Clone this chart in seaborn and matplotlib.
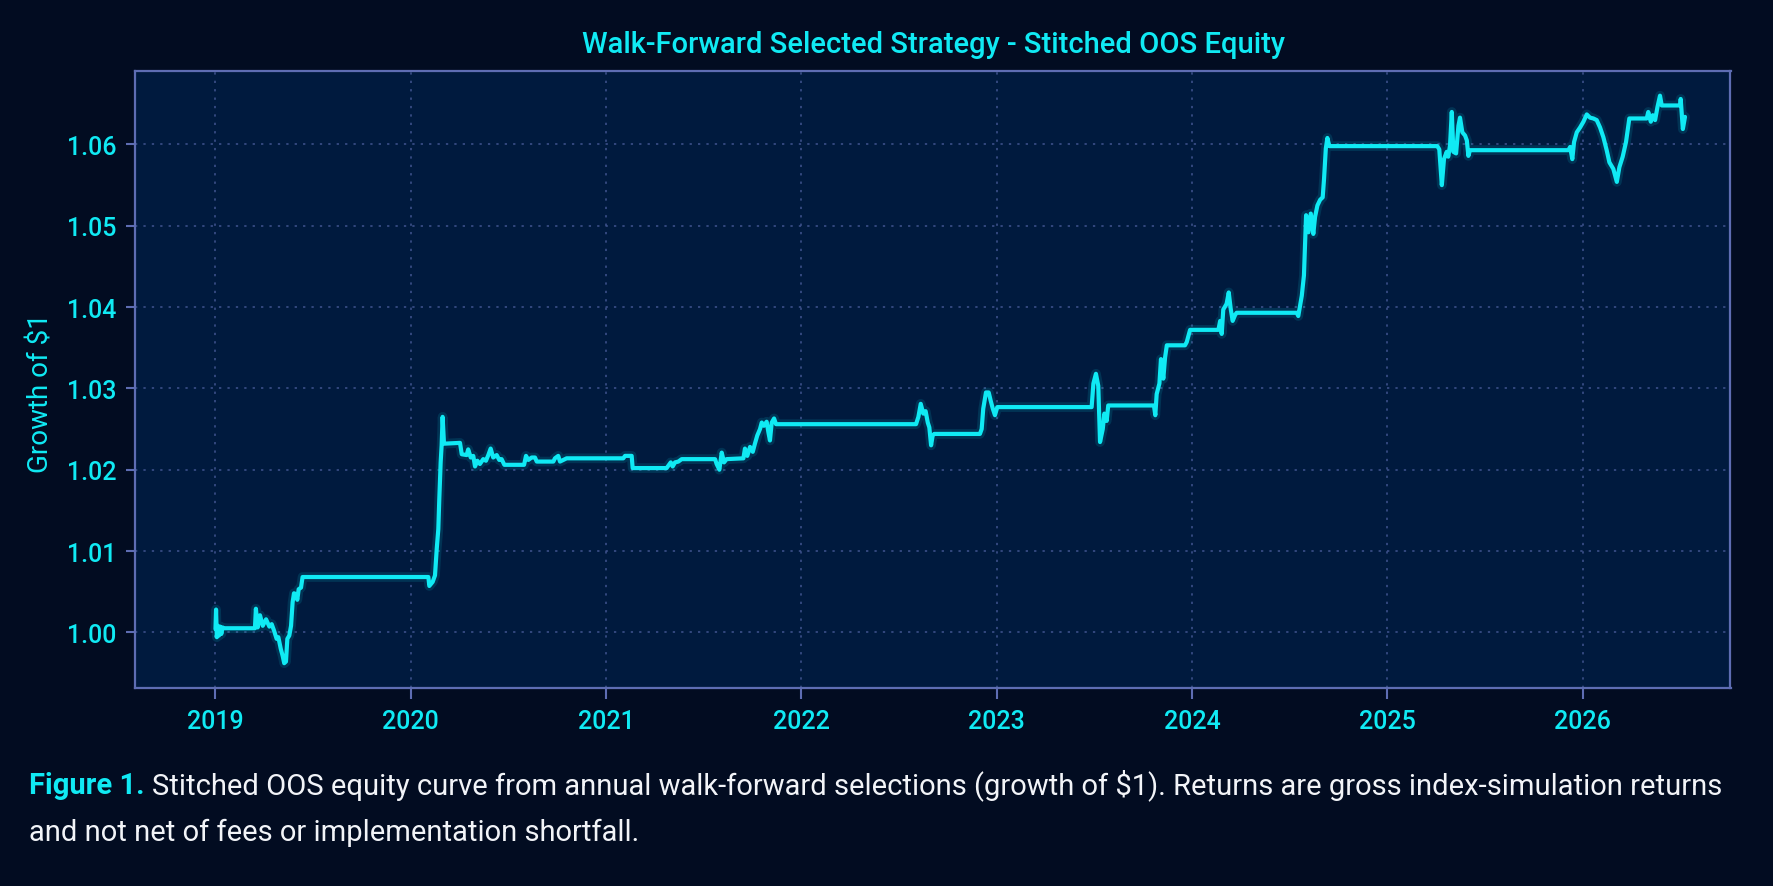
import pandas as pd
import seaborn as sns
import matplotlib.pyplot as plt

# Stitched OOS equity curve (decimal year, growth of $1)
anos = [
    2019.000, 2019.003, 2019.007, 2019.012, 2019.018, 2019.024, 2019.030, 2019.036, 2019.045, 2019.202,
    2019.207, 2019.216, 2019.228, 2019.242, 2019.259, 2019.276, 2019.288, 2019.300, 2019.313, 2019.322,
    2019.334, 2019.344, 2019.352, 2019.361, 2019.368, 2019.378, 2019.387, 2019.395, 2019.402, 2019.412,
    2019.419, 2019.426, 2019.438, 2019.446, 2020.090, 2020.095, 2020.112, 2020.124, 2020.133, 2020.141,
    2020.146, 2020.153, 2020.158, 2020.163, 2020.170, 2020.252, 2020.261, 2020.286, 2020.294, 2020.307,
    2020.320, 2020.329, 2020.341, 2020.354, 2020.371, 2020.385, 2020.397, 2020.409, 2020.422, 2020.440,
    2020.453, 2020.465, 2020.479, 2020.580, 2020.590, 2020.602, 2020.619, 2020.636, 2020.645, 2020.730,
    2020.738, 2020.755, 2020.764, 2020.781, 2020.798, 2021.088, 2021.097, 2021.131, 2021.136, 2021.310,
    2021.319, 2021.331, 2021.341, 2021.353, 2021.370, 2021.387, 2021.558, 2021.566, 2021.580, 2021.592,
    2021.604, 2021.617, 2021.703, 2021.711, 2021.723, 2021.737, 2021.751, 2021.762, 2021.774, 2021.788,
    2021.797, 2021.808, 2021.822, 2021.831, 2021.839, 2021.848, 2021.860, 2021.870, 2022.587, 2022.599,
    2022.611, 2022.624, 2022.636, 2022.647, 2022.655, 2022.664, 2022.672, 2022.680, 2022.914, 2022.923,
    2022.931, 2022.945, 2022.959, 2022.969, 2022.980, 2022.991, 2023.003, 2023.486, 2023.495, 2023.508,
    2023.520, 2023.529, 2023.543, 2023.551, 2023.563, 2023.571, 2023.805, 2023.812, 2023.819, 2023.833,
    2023.841, 2023.853, 2023.862, 2023.871, 2023.964, 2023.973, 2023.990, 2024.135, 2024.144, 2024.152,
    2024.160, 2024.177, 2024.188, 2024.198, 2024.208, 2024.220, 2024.228, 2024.536, 2024.544, 2024.562,
    2024.573, 2024.584, 2024.596, 2024.608, 2024.621, 2024.630, 2024.642, 2024.656, 2024.669, 2024.676,
    2024.685, 2024.693, 2024.703, 2025.256, 2025.266, 2025.279, 2025.290, 2025.304, 2025.312, 2025.321,
    2025.330, 2025.338, 2025.352, 2025.364, 2025.372, 2025.384, 2025.398, 2025.407, 2025.415, 2025.423,
    2025.927, 2025.936, 2025.947, 2025.956, 2025.970, 2025.987, 2026.004, 2026.021, 2026.038, 2026.055,
    2026.072, 2026.089, 2026.106, 2026.123, 2026.137, 2026.157, 2026.175, 2026.188, 2026.205, 2026.222,
    2026.239, 2026.328, 2026.336, 2026.349, 2026.359, 2026.371, 2026.383, 2026.396, 2026.405, 2026.499,
    2026.502, 2026.513, 2026.524,
]
equity = [
    1.0004, 1.0028, 0.9994, 1.0008, 0.9996, 1.0007, 0.9998, 1.0006, 1.0005, 1.0005,
    1.0029, 1.0006, 1.0021, 1.0008, 1.0016, 1.0007, 1.0010, 1.0002, 0.9992, 0.9994,
    0.9980, 0.9971, 0.9962, 0.9964, 0.9992, 0.9996, 1.0008, 1.0037, 1.0048, 1.0047,
    1.0040, 1.0053, 1.0055, 1.0068, 1.0068, 1.0057, 1.0062, 1.0070, 1.0103, 1.0127,
    1.0164, 1.0209, 1.0230, 1.0265, 1.0232, 1.0233, 1.0219, 1.0218, 1.0225, 1.0215,
    1.0217, 1.0204, 1.0211, 1.0207, 1.0213, 1.0211, 1.0218, 1.0226, 1.0215, 1.0218,
    1.0212, 1.0213, 1.0206, 1.0206, 1.0217, 1.0212, 1.0215, 1.0215, 1.0210, 1.0210,
    1.0214, 1.0217, 1.0210, 1.0212, 1.0214, 1.0214, 1.0217, 1.0217, 1.0202, 1.0202,
    1.0205, 1.0209, 1.0204, 1.0209, 1.0210, 1.0213, 1.0213, 1.0207, 1.0200, 1.0221,
    1.0209, 1.0213, 1.0214, 1.0226, 1.0217, 1.0228, 1.0222, 1.0232, 1.0242, 1.0250,
    1.0258, 1.0254, 1.0259, 1.0246, 1.0236, 1.0258, 1.0263, 1.0256, 1.0256, 1.0265,
    1.0281, 1.0269, 1.0272, 1.0258, 1.0252, 1.0230, 1.0242, 1.0244, 1.0244, 1.0250,
    1.0275, 1.0295, 1.0295, 1.0285, 1.0275, 1.0267, 1.0277, 1.0277, 1.0306, 1.0318,
    1.0303, 1.0234, 1.0250, 1.0269, 1.0260, 1.0279, 1.0279, 1.0267, 1.0293, 1.0306,
    1.0336, 1.0312, 1.0338, 1.0353, 1.0353, 1.0357, 1.0372, 1.0372, 1.0383, 1.0367,
    1.0397, 1.0404, 1.0418, 1.0398, 1.0383, 1.0390, 1.0393, 1.0393, 1.0389, 1.0414,
    1.0439, 1.0513, 1.0492, 1.0515, 1.0490, 1.0511, 1.0525, 1.0532, 1.0535, 1.0558,
    1.0595, 1.0608, 1.0598, 1.0598, 1.0594, 1.0550, 1.0582, 1.0591, 1.0585, 1.0599,
    1.0640, 1.0591, 1.0589, 1.0623, 1.0633, 1.0615, 1.0611, 1.0605, 1.0586, 1.0593,
    1.0593, 1.0597, 1.0582, 1.0603, 1.0615, 1.0621, 1.0628, 1.0637, 1.0633, 1.0632,
    1.0630, 1.0621, 1.0609, 1.0593, 1.0578, 1.0570, 1.0554, 1.0572, 1.0585, 1.0603,
    1.0632, 1.0632, 1.0640, 1.0628, 1.0636, 1.0630, 1.0646, 1.0660, 1.0648, 1.0648,
    1.0656, 1.0619, 1.0634,
]
anos_ticks = [2019, 2020, 2021, 2022, 2023, 2024, 2025, 2026]
y_ticks = [1.00, 1.01, 1.02, 1.03, 1.04, 1.05, 1.06]

df = pd.DataFrame({"ano": anos, "equity": equity})

# cores
FUNDO = "#020c21"
PAINEL = "#001a3e"
CIANO = "#10eaf4"
BORDA = "#5e6db3"
GRADE = "#40548f"

sns.set_theme(style="dark")
plt.rcParams["font.family"] = ["Roboto", "DejaVu Sans"]

fig = plt.figure(figsize=(17.74, 8.87), dpi=100, facecolor=FUNDO)
ax = fig.add_axes([135 / 1774, 1 - 689 / 887, (1730.5 - 135) / 1774, (689 - 71.5) / 887])
ax.set_facecolor(PAINEL)

# brilho leve + linha principal
sns.lineplot(data=df, x="ano", y="equity", ax=ax, color=CIANO, linewidth=7, alpha=0.12, estimator=None)
sns.lineplot(data=df, x="ano", y="equity", ax=ax, color=CIANO, linewidth=3.0, estimator=None)

ax.set_xlim(2018.588, 2026.757)
ax.set_ylim(0.99315, 1.0691)
ax.set_xticks(anos_ticks)
ax.set_xticklabels([str(a) for a in anos_ticks], fontweight="medium")
ax.set_yticks(y_ticks)
ax.set_yticklabels([f"{v:.2f}" for v in y_ticks], fontweight="medium")

ax.grid(True, color=GRADE, linestyle=(0, (1.5, 4)), linewidth=1.1)
for s in ax.spines.values():
    s.set_visible(True)
    s.set_color(BORDA)
    s.set_linewidth(1.6)

ax.tick_params(axis="both", colors=BORDA, labelcolor=CIANO, labelsize=18, width=1.5)
ax.tick_params(axis="x", length=8, pad=7, bottom=True)
ax.tick_params(axis="y", length=6.5, pad=7, left=True)

ax.set_xlabel("")
ax.set_ylabel("Growth of $1", color=CIANO, fontsize=20)
ax.yaxis.set_label_coords(-0.0505, 0.48)

fig.text(933 / 1774, 1 - 45 / 887, "Walk-Forward Selected Strategy - Stitched OOS Equity",
         ha="center", va="center", color=CIANO, fontsize=21, fontweight="medium")

# legenda da figura
r = fig.canvas.get_renderer()
t1 = fig.text(29 / 1774, 1 - 794 / 887, "Figure 1.", ha="left", va="baseline",
              color=CIANO, fontsize=21, fontweight="bold")
bb = t1.get_window_extent(r)
fig.text((bb.x1 + 8) / 1774, 1 - 794 / 887,
         "Stitched OOS equity curve from annual walk-forward selections (growth of $1). "
         "Returns are gross index-simulation returns",
         ha="left", va="baseline", color="#f2f4f8", fontsize=21)
fig.text(29 / 1774, 1 - 841 / 887, "and not net of fees or implementation shortfall.",
         ha="left", va="baseline", color="#f2f4f8", fontsize=21)

fig.savefig("out.png", dpi=100, facecolor=FUNDO)
